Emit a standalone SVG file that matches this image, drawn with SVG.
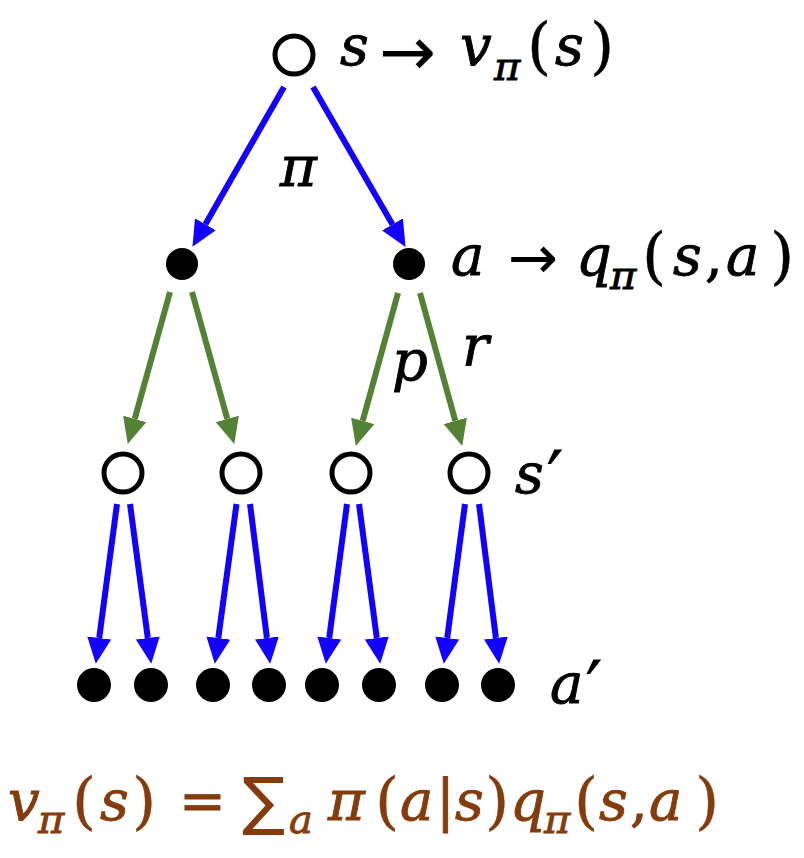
<svg xmlns="http://www.w3.org/2000/svg" width="804" height="858" viewBox="0 0 804 858">
<style>
  .os { fill: #ffffff; stroke: #000000; stroke-width: 5; }
  .as { fill: #000000; }
  .blue { stroke: #1400ff; stroke-width: 6; fill: none; marker-end: url(#mb); }
  .green { stroke: #548235; stroke-width: 6; fill: none; marker-end: url(#mg); }
  .m { font-family: "DejaVu Serif", "Liberation Serif", serif; font-style: italic; font-size: 56px; fill: #000000; stroke: #000000; stroke-width: 0.9px; }
  .up { font-style: normal; }
  .par { font-style: normal; font-size: 62px; stroke-width: 0.4px; }
  .sub { font-size: 40px; }
  .arr { font-family: "DejaVu Sans", sans-serif; font-style: normal; stroke-width: 0; }
  .pr { font-family: "DejaVu Sans", sans-serif; font-style: normal; font-size: 80px; stroke-width: 0; }
  .eq { fill: #843c0c; stroke: #843c0c; }
</style>
<defs>
  <marker id="mb" markerUnits="userSpaceOnUse" markerWidth="26" markerHeight="24" refX="0" refY="12" orient="auto">
    <path d="M0,0 L26,12 L0,24 z" fill="#1400ff"/>
  </marker>
  <marker id="mg" markerUnits="userSpaceOnUse" markerWidth="26" markerHeight="24" refX="0" refY="12" orient="auto">
    <path d="M0,0 L26,12 L0,24 z" fill="#548235"/>
  </marker>
</defs>

<g id="connectors">
  <line class="blue" x1="284" y1="87" x2="205.4" y2="224.3"/>
  <line class="blue" x1="313" y1="87" x2="392.5" y2="224.4"/>
  <line class="green" x1="170" y1="292" x2="134.7" y2="418.9"/>
  <line class="green" x1="192" y1="292" x2="227.3" y2="418.9"/>
  <line class="green" x1="398" y1="293" x2="362.7" y2="420.9"/>
  <line class="green" x1="420" y1="293" x2="455.3" y2="420.9"/>
  <line class="blue" x1="117" y1="504" x2="99.2" y2="638"/>
  <line class="blue" x1="130" y1="504" x2="147.8" y2="638"/>
  <line class="blue" x1="236.5" y1="504" x2="218.3" y2="638"/>
  <line class="blue" x1="250" y1="504" x2="266.9" y2="638"/>
  <line class="blue" x1="347" y1="504" x2="329.2" y2="638"/>
  <line class="blue" x1="359" y1="504" x2="376.8" y2="638"/>
  <line class="blue" x1="465" y1="504" x2="447.2" y2="638"/>
  <line class="blue" x1="479" y1="504" x2="495.9" y2="638"/>
</g>

<g id="root">
  <circle class="os" cx="294" cy="55" r="19"/>
  <text class="m" y="65"><tspan x="340">s</tspan><tspan class="arr" x="379" font-size="68" y="75">→</tspan><tspan x="460" y="65">v</tspan><tspan class="sub" x="494" y="80">π</tspan><tspan class="par" x="527" y="67">(</tspan><tspan x="555" y="65">s</tspan><tspan class="par" x="590" y="67">)</tspan></text>
</g>

<g id="label-pi">
  <text class="m" x="280" y="186">π</text>
</g>

<g id="a1">
  <circle class="as" cx="182" cy="264" r="16"/>
</g>
<g id="a2">
  <circle class="as" cx="409" cy="264" r="16"/>
  <text class="m" y="275"><tspan x="451">a</tspan><tspan class="arr" x="508" font-size="60" y="278">→</tspan><tspan x="576" y="275">q</tspan><tspan class="sub" x="610" y="289">π</tspan><tspan class="par" x="642" y="277">(</tspan><tspan x="673" y="275">s</tspan><tspan class="up" x="705">,</tspan><tspan x="726">a</tspan><tspan class="par" x="770" y="277">)</tspan></text>
</g>

<g id="label-p"><text class="m" x="392" y="380">p</text></g>
<g id="label-r"><text class="m" x="462" y="365">r</text></g>

<g id="s1"><circle class="os" cx="123" cy="473" r="19"/></g>
<g id="s2"><circle class="os" cx="241" cy="473" r="19"/></g>
<g id="s3"><circle class="os" cx="351" cy="473" r="19"/></g>
<g id="s4">
  <circle class="os" cx="469" cy="473" r="19"/>
  <text class="m" y="493"><tspan x="515">s</tspan><tspan class="pr" x="546" y="508">′</tspan></text>
</g>

<g id="leaves">
  <circle class="as" cx="94" cy="685" r="17"/>
  <circle class="as" cx="151" cy="685" r="17"/>
  <circle class="as" cx="213" cy="685" r="17"/>
  <circle class="as" cx="269" cy="685" r="17"/>
  <circle class="as" cx="322" cy="685" r="17"/>
  <circle class="as" cx="379" cy="685" r="17"/>
  <circle class="as" cx="442" cy="685" r="17"/>
  <circle class="as" cx="498" cy="685" r="17"/>
  <text class="m" y="703"><tspan x="550">a</tspan><tspan class="pr" x="585" y="718">′</tspan></text>
</g>

<g id="equation">
  <text class="m eq" y="820"><tspan x="8">v</tspan><tspan class="sub" x="38" y="833">π</tspan><tspan class="par" x="72" y="822">(</tspan><tspan x="100" y="820">s</tspan><tspan class="par" x="132" y="822">)</tspan><tspan class="up" x="179" y="820">=</tspan><tspan class="arr" x="242" y="823" font-size="64">∑</tspan><tspan class="sub" x="289" y="833">a</tspan><tspan x="328" y="820">π</tspan><tspan class="par" x="375" y="822">(</tspan><tspan x="400" y="820">a</tspan><tspan class="up" x="436">|</tspan><tspan x="455">s</tspan><tspan class="par" x="485" y="822">)</tspan><tspan x="510" y="820">q</tspan><tspan class="sub" x="544" y="833">π</tspan><tspan class="par" x="574" y="822">(</tspan><tspan x="599" y="820">s</tspan><tspan class="up" x="630">,</tspan><tspan x="649">a</tspan><tspan class="par" x="695" y="822">)</tspan></text>
</g>
</svg>
